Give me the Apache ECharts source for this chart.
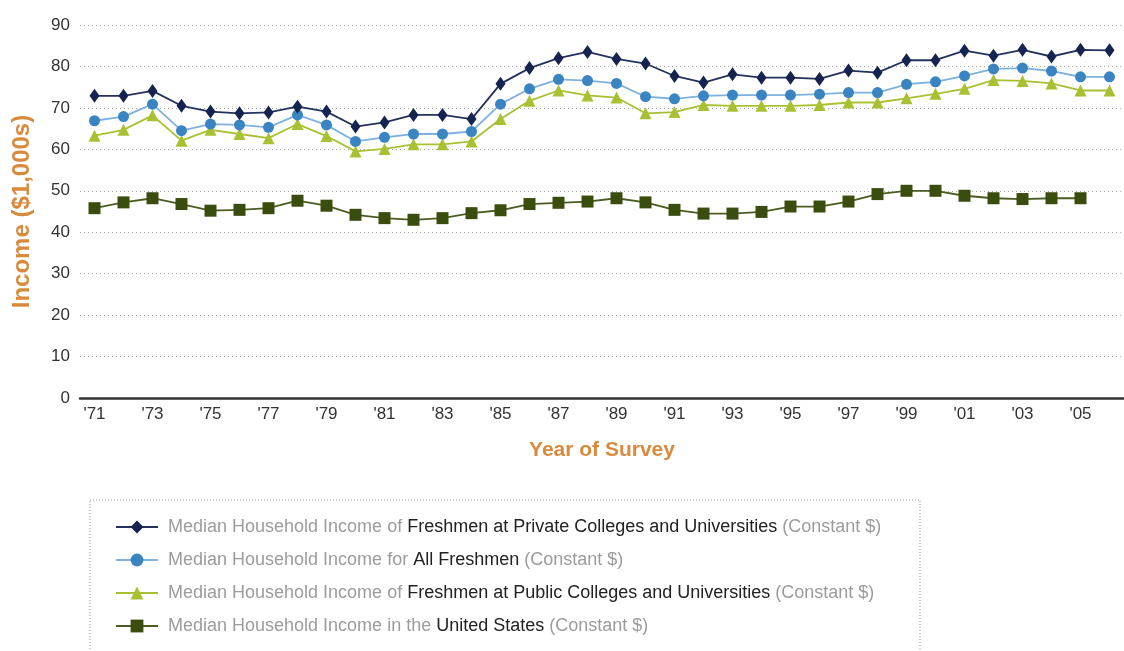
<!DOCTYPE html>
<html>
<head>
<meta charset="utf-8">
<script src="https://cdn.jsdelivr.net/npm/echarts@6/dist/echarts.min.js"></script>
<style>
html,body{margin:0;padding:0;background:#fff;}
#chart{width:1124px;height:651px;}
</style>
</head>
<body>
<div id="chart"></div>
<script>
// survey years
var years = ["'71","'72","'73","'74","'75","'76","'77","'78","'79","'80","'81","'82",
    "'83","'84","'85","'86","'87","'88","'89","'90","'91","'92","'93","'94",
    "'95","'96","'97","'98","'99","'00","'01","'02","'03","'04","'05","'06"];

// median household income, $1,000s constant
var privateFr = [72.9,72.9,74.1,70.5,69.1,68.7,68.9,70.3,69.1,65.5,66.5,68.3,68.3,67.3,75.8,79.6,82.0,83.5,
    81.8,80.7,77.7,76.1,78.1,77.3,77.3,77.0,79.0,78.5,81.5,81.5,83.8,82.6,84.0,82.4,84.0,83.9];
var allFr = [66.9,67.9,70.9,64.5,66.1,65.9,65.3,68.3,65.9,61.9,62.9,63.7,63.7,64.3,70.9,74.6,76.9,76.6,
    75.9,72.7,72.2,72.9,73.1,73.1,73.1,73.3,73.7,73.7,75.7,76.3,77.7,79.4,79.6,78.9,77.5,77.5];
var publicFr = [63.3,64.7,68.2,62.1,64.7,63.7,62.7,66.1,63.2,59.5,60.1,61.2,61.2,61.9,67.3,71.7,74.2,73.0,
    72.5,68.7,69.0,70.7,70.5,70.5,70.5,70.7,71.3,71.3,72.3,73.4,74.6,76.7,76.5,75.9,74.2,74.2];
var usAll = [45.8,47.2,48.2,46.8,45.2,45.4,45.8,47.6,46.4,44.2,43.4,43.0,43.4,44.6,45.3,46.8,47.1,47.4,
    48.2,47.2,45.4,44.5,44.5,44.9,46.2,46.2,47.4,49.2,50.0,50.0,48.8,48.2,48.0,48.2,48.2];

// legend text pieces
var seriesNames = ["private", "all", "public", "us"];
var legendPre = ["Median Household Income of ", "Median Household Income for ",
    "Median Household Income of ", "Median Household Income in the "];
var legendMain = ["Freshmen at Private Colleges and Universities", "All Freshmen",
    "Freshmen at Public Colleges and Universities", "United States"];
var legendPost = " (Constant $)";

var font = "'Liberation Sans', Arial, sans-serif";
var orange = "#d98a3d";

var chart = echarts.init(document.getElementById("chart"));

function line(idx, data, symbol, size, color, lineColor) {
    return {
        name: seriesNames[idx],
        type: "line",
        data: data,
        symbol: symbol,
        symbolSize: size,
        showAllSymbol: true,
        itemStyle: { color: color },
        lineStyle: { color: lineColor || color, width: 1.8 },
        emphasis: { disabled: true }
    };
}

var option = {
    animation: false,
    textStyle: { fontFamily: font },
    grid: { left: 80, right: 0, top: 25, bottom: 253, outerBoundsMode: "none", containLabel: false },
    legend: {
        orient: "vertical",
        left: 115,
        top: 518,
        padding: 0,
        itemWidth: 42,
        itemHeight: 16,
        itemGap: 15,
        data: seriesNames,
        formatter: function (name) {
            var i = seriesNames.indexOf(name);
            return "{g|" + legendPre[i] + "}{b|" + legendMain[i] + "}{g|" + legendPost + "}";
        },
        textStyle: {
            fontFamily: font,
            padding: [0, 0, 0, 5],
            rich: {
                g: { color: "#9c9c9c", fontSize: 18, fontFamily: font },
                b: { color: "#222", fontSize: 18, fontFamily: font }
            }
        }
    },
    graphic: [{
        type: "rect",
        shape: { x: 90, y: 500, width: 830, height: 200 },
        style: { fill: "none", stroke: "#999", lineWidth: 1, lineDash: [1, 2] },
        silent: true
    }],
    xAxis: {
        type: "category",
        data: years,
        boundaryGap: true,
        name: "Year of Survey",
        nameLocation: "middle",
        nameMoveOverlap: false,
        nameGap: 42,
        nameTextStyle: { color: orange, fontSize: 21, fontWeight: "bold", fontFamily: font },
        axisLine: { lineStyle: { color: "#333", width: 2.5 } },
        axisTick: { show: false },
        axisLabel: { interval: 1, color: "#333", fontSize: 17, margin: 8, fontFamily: font }
    },
    yAxis: {
        type: "value",
        min: 0,
        max: 90,
        interval: 10,
        name: "Income ($1,000s)",
        nameLocation: "middle",
        nameMoveOverlap: false,
        nameGap: 46,
        nameTextStyle: { color: orange, fontSize: 24, fontWeight: "bold", fontFamily: font },
        axisLine: { show: false },
        axisTick: { show: false },
        axisLabel: { color: "#333", fontSize: 17, margin: 10, padding: [0, 0, 6, 0], fontFamily: font },
        splitLine: { lineStyle: { color: "#aaa", type: [1, 3], width: 1 } }
    },
    series: [
        line(3, usAll, "rect", 12, "#3a4d0f", "#4a5d20"),
        line(2, publicFr, "triangle", 12, "#a9c033"),
        line(1, allFr, "circle", 11, "#3a84c2", "#7eb1dd"),
        line(0, privateFr, "diamond", [10, 14], "#14234f", "#23325d")
    ]
};
chart.setOption(option);
</script>
</body>
</html>
